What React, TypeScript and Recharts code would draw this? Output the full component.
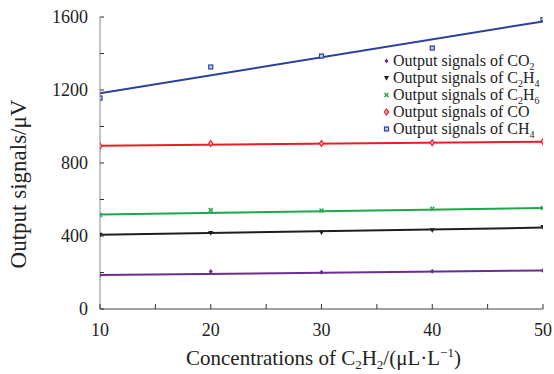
import React from 'react'
import { ComposedChart, Line, Scatter, XAxis, YAxis, Label } from 'recharts'

const concentrations = [10, 20, 30, 40, 50]
const co2Signals = [185, 206, 202, 207, 211]
const c2h4Signals = [407, 417, 420, 432, 449]
const c2h6Signals = [515, 543, 540, 549, 553]
const coSignals = [893, 907, 907, 911, 917]
const ch4Signals = [1156, 1326, 1386, 1430, 1589]

const fitRange = [10, 50]
const co2Fit = [186, 211]
const c2h4Fit = [407, 446]
const c2h6Fit = [518, 553]
const coFit = [895, 917]
const ch4Fit = [1182, 1576]

const xTicks = [10, 15, 20, 25, 30, 35, 40, 45, 50]
const yTicks = [0, 200, 400, 600, 800, 1000, 1200, 1400, 1600]

const FONT = '"Liberation Serif", "Times New Roman", serif'

const toPoints = (xs: number[], ys: number[]) => xs.map((x, i) => ({ x, y: ys[i] }))

type MarkProps = { cx?: number; cy?: number }

const Co2Mark = ({ cx = 0, cy = 0 }: MarkProps) => (
    <path d={`M${cx},${cy - 2.5}L${cx + 2},${cy}L${cx},${cy + 2.5}L${cx - 2},${cy}Z`} fill="#6b2d93" />
)
const C2h4Mark = ({ cx = 0, cy = 0 }: MarkProps) => (
    <path d={`M${cx - 2.5},${cy - 2}L${cx + 2.5},${cy - 2}L${cx},${cy + 2.8}Z`} fill="#1e1e1e" />
)
const C2h6Mark = ({ cx = 0, cy = 0 }: MarkProps) => (
    <g stroke="#1ea84c" strokeWidth={1.4}>
        <line x1={cx - 2} y1={cy - 2} x2={cx + 2} y2={cy + 2} />
        <line x1={cx - 2} y1={cy + 2} x2={cx + 2} y2={cy - 2} />
    </g>
)
const CoMark = ({ cx = 0, cy = 0 }: MarkProps) => (
    <path d={`M${cx},${cy - 3}L${cx + 2},${cy}L${cx},${cy + 3}L${cx - 2},${cy}Z`} fill="#f7b0b2" stroke="#ec1c24" strokeWidth={1.2} />
)
const Ch4Mark = ({ cx = 0, cy = 0 }: MarkProps) => (
    <rect x={cx - 2} y={cy - 2} width={4} height={4} fill="#c9cfee" stroke="#2b3f9e" strokeWidth={1.2} />
)

const series = [
    { gas: 'CO2', sub: ['CO', '2', ''], color: '#6b2d93', points: co2Signals, fit: co2Fit, Mark: Co2Mark },
    { gas: 'C2H4', sub: ['C', '2', 'H', '4'], color: '#1e1e1e', points: c2h4Signals, fit: c2h4Fit, Mark: C2h4Mark },
    { gas: 'C2H6', sub: ['C', '2', 'H', '6'], color: '#1ea84c', points: c2h6Signals, fit: c2h6Fit, Mark: C2h6Mark },
    { gas: 'CO', sub: ['CO'], color: '#ec1c24', points: coSignals, fit: coFit, Mark: CoMark },
    { gas: 'CH4', sub: ['CH', '4'], color: '#2b3f9e', points: ch4Signals, fit: ch4Fit, Mark: Ch4Mark },
]

const BottomTick = (props: any) => {
    const { x, y, payload } = props
    const major = payload.value % 10 === 0
    return (
        <g>
            <line x1={x} x2={x} y1={y} y2={y - 5} stroke="#333" />
            {major && (
                <text x={x} y={y + 27} textAnchor="middle" fontFamily={FONT} fontSize={18} fill="#222">
                    {payload.value}
                </text>
            )}
        </g>
    )
}

const TopTick = (props: any) => {
    const { x, y } = props
    return <line x1={x} x2={x} y1={y} y2={y + 5} stroke="#444" />
}

const LeftTick = (props: any) => {
    const { x, y, payload } = props
    const major = payload.value % 400 === 0
    return (
        <g>
            <line x1={x} x2={x + 4} y1={y} y2={y} stroke="#333" />
            {major && (
                <text x={x - 12} y={y + 6} textAnchor="end" fontFamily={FONT} fontSize={18} fill="#222">
                    {payload.value}
                </text>
            )}
        </g>
    )
}

const RightTick = (props: any) => {
    const { x, y } = props
    return <line x1={x} x2={x - 4} y1={y} y2={y} stroke="#444" />
}

const XTitle = (props: any) => {
    const { x, width } = props.viewBox
    return (
        <text x={x + width / 2 + 2} y={365} textAnchor="middle" fontFamily={FONT} fontSize={21} fill="#222">
            Concentrations of C<tspan dy={4} fontSize={13}>2</tspan>
            <tspan dy={-4}>H</tspan>
            <tspan dy={4} fontSize={13}>2</tspan>
            <tspan dy={-4}>/(μL·L</tspan>
            <tspan dy={-8} fontSize={13}>−1</tspan>
            <tspan dy={8}>)</tspan>
        </text>
    )
}

const YTitle = () => (
    <text x={0} y={0} transform="translate(26,184) rotate(-90)" textAnchor="middle" fontFamily={FONT} fontSize={23} fill="#222">
        Output signals/μV
    </text>
)

const LegendBox = () => (
    <div style={{ position: 'absolute', left: 382, top: 52, fontFamily: FONT, fontSize: 16, color: '#222', lineHeight: '17px' }}>
        {series.map((s) => (
            <div key={s.gas} style={{ display: 'flex', alignItems: 'center', height: 17, whiteSpace: 'nowrap' }}>
                <svg width={9} height={10} style={{ marginRight: 2 }}>
                    <s.Mark cx={4.5} cy={5} />
                </svg>
                <span>
                    Output signals of {s.sub[0]}
                    {s.sub[1] && <sub style={{ fontSize: 10, lineHeight: 0 }}>{s.sub[1]}</sub>}
                    {s.sub[2]}
                    {s.sub[3] && <sub style={{ fontSize: 10, lineHeight: 0 }}>{s.sub[3]}</sub>}
                </span>
            </div>
        ))}
    </div>
)

export default function App() {
    return (
        <div style={{ position: 'absolute', left: 0, top: 0, width: 554, height: 374, background: '#fff' }}>
            <ComposedChart width={554} height={374} margin={{ top: 17, right: 11, bottom: 0, left: 0 }}>
                <XAxis
                    dataKey="x"
                    type="number"
                    domain={[10, 50]}
                    ticks={xTicks}
                    interval={0}
                    height={65}
                    tickSize={0}
                    tickMargin={0}
                    tickLine={false}
                    tick={BottomTick}
                    axisLine={{ stroke: '#444' }}
                    allowDataOverflow
                >
                    <Label content={XTitle} />
                </XAxis>
                <XAxis
                    xAxisId="top"
                    orientation="top"
                    dataKey="x"
                    type="number"
                    domain={[10, 50]}
                    ticks={xTicks}
                    interval={0}
                    height={0}
                    tickSize={0}
                    tickMargin={0}
                    tickLine={false}
                    tick={TopTick}
                    axisLine={{ stroke: '#cfcfcf' }}
                    allowDataOverflow
                />
                <YAxis
                    type="number"
                    domain={[0, 1600]}
                    ticks={yTicks}
                    interval={0}
                    width={100}
                    tickSize={0}
                    tickMargin={0}
                    tickLine={false}
                    tick={LeftTick}
                    axisLine={{ stroke: '#888' }}
                    allowDataOverflow
                >
                    <Label content={YTitle} />
                </YAxis>
                <YAxis
                    yAxisId="right"
                    orientation="right"
                    type="number"
                    domain={[0, 1600]}
                    ticks={yTicks}
                    interval={0}
                    width={0}
                    tickSize={0}
                    tickMargin={0}
                    tickLine={false}
                    tick={RightTick}
                    axisLine={{ stroke: '#cfcfcf' }}
                    allowDataOverflow
                />
                {series.map((s) => (
                    <Line
                        key={`fit-${s.gas}`}
                        data={toPoints(fitRange, s.fit)}
                        dataKey="y"
                        stroke={s.color}
                        strokeWidth={2}
                        dot={false}
                        activeDot={false}
                        isAnimationActive={false}
                    />
                ))}
                {series.map((s) => (
                    <Scatter
                        key={`pts-${s.gas}`}
                        data={toPoints(concentrations, s.points)}
                        dataKey="y"
                        shape={(p: any) => <s.Mark cx={p.cx} cy={p.cy} />}
                        isAnimationActive={false}
                    />
                ))}
            </ComposedChart>
            <LegendBox />
        </div>
    )
}
